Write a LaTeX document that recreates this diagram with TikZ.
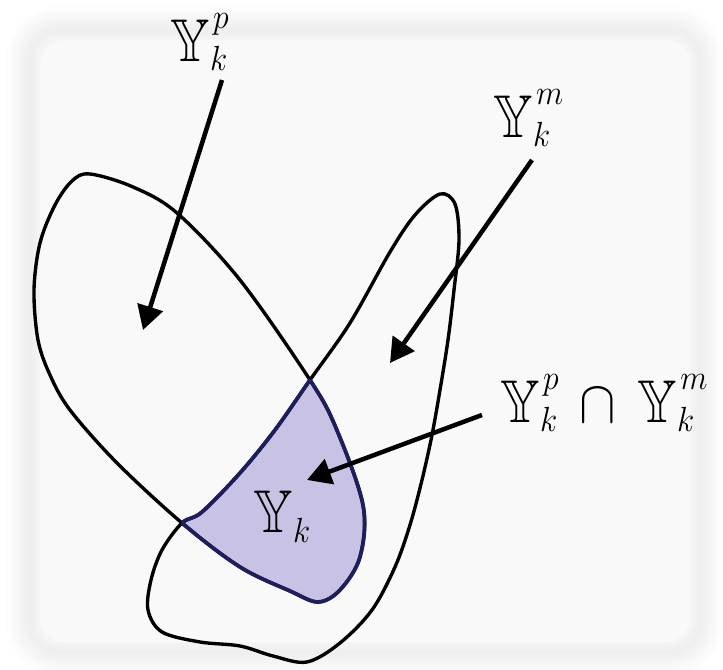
\documentclass[tikz,border=0pt]{standalone}
\usepackage{amssymb}
\usepackage{graphicx}
\DeclareMathSizes{24.88}{24.88}{14.4}{10}
\usetikzlibrary{arrows.meta}
\definecolor{panel}{RGB}{249,249,249}
\definecolor{lav}{RGB}{200,194,229}
\definecolor{navy}{RGB}{30,30,95}
\newcommand{\curveA}{plot[smooth cycle, tension=0.55] coordinates {
 (90,174) (133,187) (177,213) (240,280) (310,380) (336,428) (363,505)
 (360,557) (340,590) (318,602) (290,591) (240,567) (182,523) (117,463) (70,410)
 (50,375) (38,340) (34,290) (40,243) (55,205) (72,181)}}
\newcommand{\curveB}{plot[smooth cycle, tension=0.55] coordinates {
 (182,523) (202,512) (240,473) (275,430) (310,380) (350,323) (390,252) (415,215)
 (440,194) (455,204) (459,240) (454,290) (448,340) (440,390) (432,435) (422,480)
 (410,525) (395,567) (372,610) (340,643) (307,662) (273,656) (240,646) (200,642)
 (162,632) (148,610) (151,580) (162,550)}}
% Y with subscript k and a raised superscript
\newcommand{\Ykk}[1]{\mathbb{Y}\rlap{\raisebox{-3.5pt}{$\scriptstyle k$}}\raisebox{14pt}{$\mkern1mu\scriptstyle #1$}}
\newcommand{\narrow}[1]{\scalebox{0.88}[0.97]{#1}}
\tikzset{
  curve/.style={line width=1.35pt, black},
  bord/.style={line width=1.5pt, navy},
  pointer/.style={line width=1.8pt, black, -{Triangle[length=9.6pt,width=10.4pt]}},
  lbl/.style={font=\Huge, inner sep=0pt, anchor=base west},
}
\begin{document}
\begin{tikzpicture}[x=0.4pt, y=-0.4pt]
\useasboundingbox (0,0) rectangle (723,670);
\fill[white] (0,0) rectangle (723,670);
% soft panel shadow
\foreach \w in {48,42,36,30,24,18,12,6}{
  \draw[line width=\w*0.4pt, black, opacity=0.008, rounded corners=12pt]
    (30,30) rectangle (700,652);
}
\fill[panel, rounded corners=10pt] (40,40) rectangle (690,642);
% shaded intersection
\begin{scope}
  \clip \curveB;
  \fill[lav] \curveA;
\end{scope}
\draw[curve] \curveA;
\draw[curve] \curveB;
\begin{scope}
  \clip \curveB;
  \draw[bord] \curveA;
\end{scope}
\begin{scope}
  \clip \curveA;
  \draw[bord] \curveB;
\end{scope}
% labels
\node[lbl] (lp) at (170,62) {\narrow{$\Ykk{p}$}};
\node[lbl] (lm) at (493,138) {\narrow{$\Ykk{m}$}};
\node[lbl] (lpm) at (500,423) {\narrow{$\Ykk{p}\mkern3mu\cap\mkern3mu\Ykk{m}$}};
\node[lbl] (ly) at (253,533) {\narrow{$\mathbb{Y}_k$}};
% arrows
\coordinate (tp) at (222,80);  \coordinate (hp) at (143,330);
\coordinate (tm) at (532,160); \coordinate (hm) at (390,363);
\coordinate (ti) at (482,415); \coordinate (hi) at (307,480);
\draw[pointer] (tp) -- (hp);
\draw[pointer] (tm) -- (hm);
\draw[pointer] (ti) -- (hi);
\end{tikzpicture}
\end{document}
